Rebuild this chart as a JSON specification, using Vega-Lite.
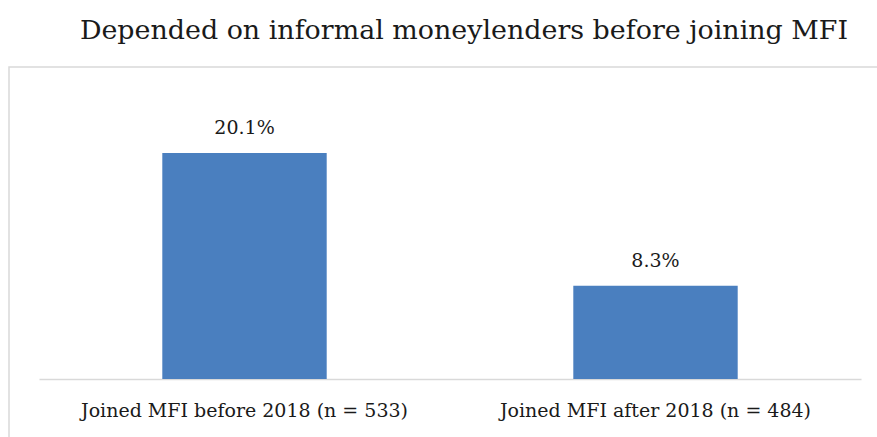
{
  "$schema": "https://vega.github.io/schema/vega-lite/v6.json",
  "autosize": {"type": "none"},
  "padding": {"left": 9, "top": 67, "right": -14, "bottom": -10},
  "width": 882,
  "height": 380,
  "background": "white",
  "title": {
    "text": "Depended on informal moneylenders before joining MFI",
    "font": "DejaVu Serif",
    "fontSize": 26.9,
    "fontWeight": "normal",
    "color": "#1a1a1a",
    "anchor": "middle",
    "dx": 14,
    "offset": 22
  },
  "data": {
    "values": [
      {"group": "Joined MFI before 2018 (n = 533)", "share": 20.1, "label": "20.1%"},
      {"group": "Joined MFI after 2018 (n = 484)", "share": 8.3, "label": "8.3%"}
    ]
  },
  "encoding": {
    "x": {
      "field": "group",
      "type": "nominal",
      "sort": null,
      "scale": {"type": "band", "range": [30, 852], "paddingInner": 0.6, "paddingOuter": 0.3},
      "axis": {
        "title": null,
        "orient": "bottom",
        "offset": -68,
        "labelAngle": 0,
        "labelLimit": 0,
        "ticks": false,
        "domainColor": "#d9d9d9",
        "domainWidth": 1.5,
        "labelFont": "DejaVu Serif",
        "labelFontSize": 19,
        "labelColor": "#1a1a1a",
        "labelPadding": 22,
        "labelBaseline": "top"
      }
    },
    "y": {
      "field": "share",
      "type": "quantitative",
      "scale": {"domain": [-6.05, 27.75], "nice": false, "zero": false},
      "axis": null
    }
  },
  "layer": [
    {"mark": {"type": "bar", "color": "#4a7fbf"}},
    {
      "mark": {"type": "text", "baseline": "bottom", "dy": -15, "font": "DejaVu Serif", "fontSize": 19, "color": "#1a1a1a"},
      "encoding": {"text": {"field": "label"}}
    }
  ],
  "config": {
    "view": {"stroke": "#d9d9d9", "strokeWidth": 1.5}
  }
}
